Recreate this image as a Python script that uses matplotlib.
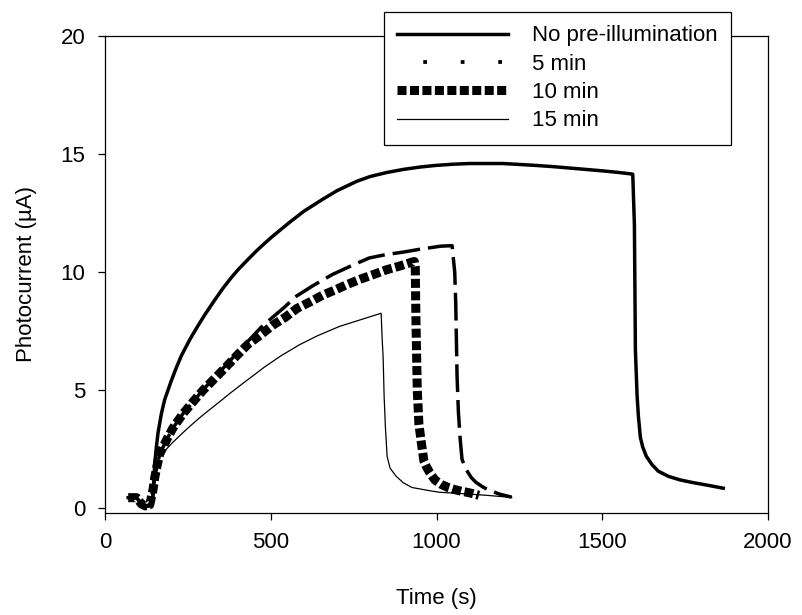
import matplotlib
matplotlib.use("Agg")
import matplotlib.pyplot as plt
from matplotlib.lines import Line2D

plt.rcParams['font.family'] = ['Liberation Sans', 'DejaVu Sans']

# time (s) and photocurrent (uA)
t_none = [70, 95, 110, 125, 138, 145, 150, 155, 160, 165, 170, 180, 190, 200, 215, 230, 256, 280,
          300, 330, 355, 380, 400, 430, 457, 480, 500, 530, 556, 600, 656, 700, 760, 800, 850,
          900, 950, 998, 1050, 1100, 1149, 1200, 1250, 1299, 1350, 1400, 1450, 1500, 1550, 1592,
          1597, 1600, 1605, 1609, 1615, 1622, 1633, 1650, 1669, 1700, 1735, 1769, 1820, 1865]
y_none = [0.45, 0.45, 0.2, 0.08, 0.1, 0.5, 1.9, 2.6, 3.2, 3.6, 4.0, 4.6, 5.0, 5.4, 5.95, 6.45,
          7.15, 7.72, 8.17, 8.8, 9.3, 9.75, 10.08, 10.52, 10.9, 11.2, 11.45, 11.8, 12.1, 12.58,
          13.08, 13.45, 13.85, 14.05, 14.22, 14.35, 14.45, 14.52, 14.57, 14.6, 14.6, 14.6, 14.56,
          14.52, 14.47, 14.41, 14.35, 14.29, 14.22, 14.15, 12.0, 6.7, 4.8, 3.9, 3.0, 2.6, 2.2,
          1.85, 1.57, 1.35, 1.2, 1.1, 0.97, 0.85]

t_5 = [70, 95, 110, 122, 135, 145, 150, 157, 165, 186, 205, 235, 265, 296, 331, 366, 400, 440,
       470, 505, 540, 577, 630, 686, 740, 797, 850, 896, 950, 1013, 1047, 1055, 1058, 1060, 1062,
       1066, 1071, 1077, 1089, 1105, 1119, 1140, 1158, 1190, 1227]
y_5 = [0.45, 0.45, 0.18, 0.1, 0.15, 0.8, 1.3, 1.8, 2.3, 2.9, 3.4, 4.0, 4.5, 5.02, 5.55, 6.08, 6.6,
       7.2, 7.65, 8.08, 8.5, 8.98, 9.45, 9.9, 10.25, 10.6, 10.75, 10.84, 10.97, 11.1, 11.12, 10.0,
       8.7, 7.15, 5.6, 4.1, 3.0, 2.07, 1.65, 1.3, 1.1, 0.9, 0.77, 0.6, 0.47]

t_10 = [70, 95, 110, 122, 135, 145, 150, 157, 165, 186, 205, 235, 265, 296, 331, 366, 400, 431,
        470, 506, 545, 580, 620, 656, 695, 731, 770, 810, 849, 887, 925, 933, 936, 937, 938, 940,
        942, 947, 955, 962, 970, 980, 995, 1016, 1035, 1053, 1075, 1091, 1110, 1128]
y_10 = [0.45, 0.45, 0.18, 0.1, 0.15, 0.8, 1.3, 1.8, 2.3, 2.9, 3.4, 4.0, 4.5, 5.0, 5.5, 6.0, 6.5,
        6.94, 7.35, 7.75, 8.1, 8.47, 8.75, 9.02, 9.25, 9.48, 9.7, 9.9, 10.1, 10.25, 10.42, 10.45,
        10.2, 9.0, 8.0, 6.5, 5.0, 3.55, 2.7, 2.0, 1.75, 1.5, 1.2, 1.0, 0.88, 0.8, 0.72, 0.68,
        0.62, 0.55]

t_15 = [70, 95, 110, 122, 135, 145, 150, 157, 165, 185, 205, 235, 260, 286, 316, 350, 380, 415,
        436, 480, 530, 586, 640, 707, 770, 833, 836, 839, 842, 846, 851, 860, 878, 900, 926, 977,
        1008, 1077, 1150, 1227]
y_15 = [0.45, 0.45, 0.18, 0.1, 0.15, 0.8, 1.3, 1.8, 2.16, 2.5, 2.8, 3.2, 3.52, 3.84, 4.18, 4.56,
        4.9, 5.28, 5.5, 5.97, 6.45, 6.92, 7.3, 7.7, 7.98, 8.26, 7.2, 6.4, 4.74, 3.4, 2.2, 1.7,
        1.36, 1.08, 0.88, 0.75, 0.68, 0.62, 0.55, 0.46]

labels = ['No pre-illumination', '5 min', '10 min', '15 min']
x_ticks = [0, 500, 1000, 1500, 2000]
y_ticks = [0, 5, 10, 15, 20]

fig = plt.figure(figsize=(8.02, 6.15), dpi=100)
ax = fig.add_axes([105 / 802, 1 - 513 / 615, 663 / 802, 477 / 615])

ax.plot(t_none, y_none, color='black', lw=2.5, solid_joinstyle='round')
ax.plot(t_5, y_5, color='black', lw=2.5, linestyle=(0, (8, 2.3)), dash_capstyle='butt')
ax.plot(t_10, y_10, color='black', lw=6.5, linestyle=(0, (1, 0.38)), dash_capstyle='butt')
ax.plot(t_15, y_15, color='black', lw=0.9)

ax.set_xlim(0, 2000)
ax.set_ylim(-0.2, 20)
ax.set_xticks(x_ticks)
ax.set_yticks(y_ticks)
ax.tick_params(direction='out', length=5, width=0.9, labelsize=16, pad=9,
               top=False, right=False)
for s in ax.spines.values():
    s.set_linewidth(0.9)
ax.set_xlabel('Time (s)', fontsize=16, labelpad=25)
ax.set_ylabel('Photocurrent (µA)', fontsize=16, labelpad=17)

handles = [
    Line2D([], [], color='black', lw=2.5),
    Line2D([], [], color='black', lw=2.7, linestyle=(3, (1, 9)), dash_capstyle='butt'),
    Line2D([], [], color='black', lw=6.5, linestyle=(0, (1, 0.38)), dash_capstyle='butt'),
    Line2D([], [], color='black', lw=0.9),
]
leg = fig.legend(handles, labels, loc='upper left', bbox_to_anchor=(384 / 802, 1 - 12 / 615),
                 fontsize=16, handlelength=5, handletextpad=1.05, labelspacing=0.33,
                 borderpad=0.6, borderaxespad=0, fancybox=False, framealpha=1,
                 edgecolor='black')
leg.get_frame().set_linewidth(0.9)

fig.savefig('out.png', dpi=100)
